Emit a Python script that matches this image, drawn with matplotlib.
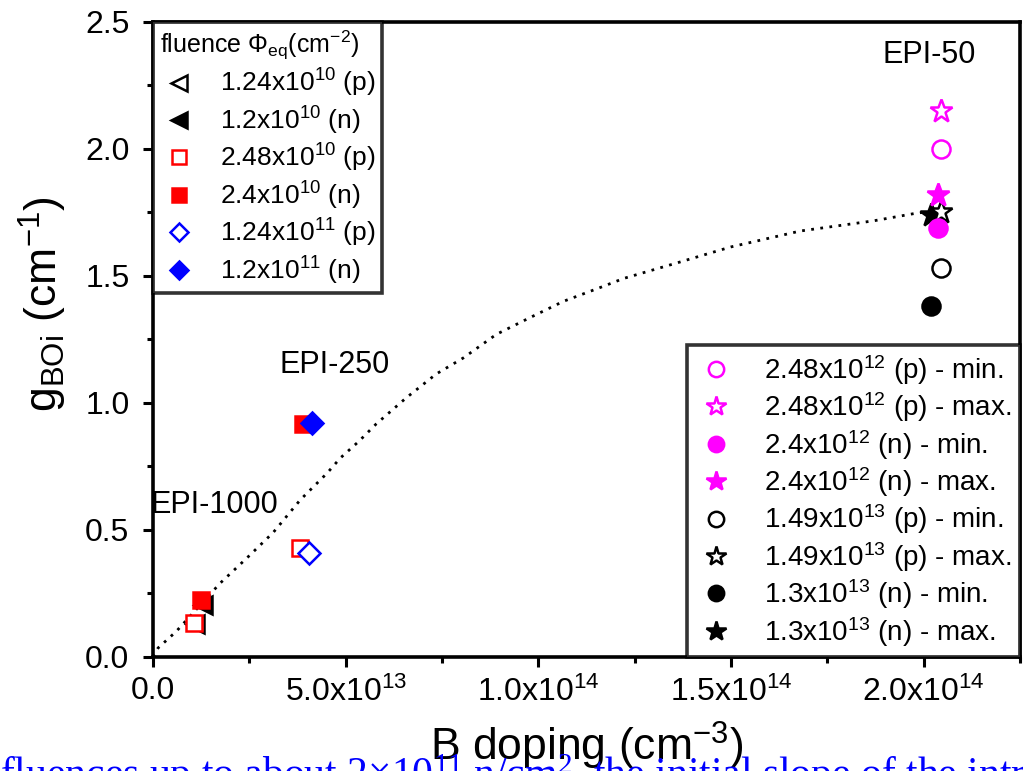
import matplotlib
matplotlib.use("Agg")
import matplotlib.pyplot as plt

plt.rcParams["font.family"] = ["Liberation Sans", "DejaVu Sans"]
plt.rcParams["mathtext.fontset"] = "custom"
plt.rcParams["mathtext.rm"] = "Liberation Sans"
plt.rcParams["mathtext.it"] = "Liberation Sans"
plt.rcParams["mathtext.default"] = "regular"

# B doping (cm^-3) and g_BOi (cm^-1) values
# EPI-1000 / EPI-250 series (low fluences)
tri_p_x = [1.09e13]
tri_p_y = [0.13]
tri_n_x = [1.30e13]
tri_n_y = [0.205]
sq_p_x = [1.06e13, 3.82e13]
sq_p_y = [0.134, 0.43]
sq_n_x = [1.25e13, 3.90e13]
sq_n_y = [0.224, 0.917]
dia_p_x = [4.05e13]
dia_p_y = [0.41]
dia_n_x = [4.13e13]
dia_n_y = [0.921]

# EPI-50 series (high fluences)
m_p_min_x, m_p_min_y = [2.044e14], [2.00]
m_p_max_x, m_p_max_y = [2.044e14], [2.15]
m_n_min_x, m_n_min_y = [2.036e14], [1.69]
m_n_max_x, m_n_max_y = [2.036e14], [1.82]
k_p_min_x, k_p_min_y = [2.044e14], [1.53]
k_p_max_x, k_p_max_y = [2.044e14], [1.75]
k_n_min_x, k_n_min_y = [2.020e14], [1.38]
k_n_max_x, k_n_max_y = [2.020e14], [1.74]

# dotted guide curve
fit_x = [0, 1.3e12, 6.0e12, 1.74e13, 2.44e13, 3.12e13, 3.82e13, 4.52e13, 4.86e13,
         5.35e13, 5.79e13, 6.57e13, 7.35e13, 8.05e13, 8.91e13, 9.77e13, 1.065e14,
         1.158e14, 1.221e14, 1.35e14, 1.499e14, 1.68e14, 1.87e14, 1.984e14, 2.03e14]
fit_y = [0.0, 0.035, 0.10, 0.29, 0.39, 0.49, 0.618, 0.724, 0.783,
         0.85, 0.917, 1.02, 1.114, 1.177, 1.27, 1.335, 1.40,
         1.453, 1.49, 1.547, 1.614, 1.677, 1.717, 1.748, 1.755]

lbl_low = ["1.24x10$^{10}$ (p)", "1.2x10$^{10}$ (n)", "2.48x10$^{10}$ (p)",
           "2.4x10$^{10}$ (n)", "1.24x10$^{11}$ (p)", "1.2x10$^{11}$ (n)"]
lbl_high = ["2.48x10$^{12}$ (p) - min.", "2.48x10$^{12}$ (p) - max.",
            "2.4x10$^{12}$ (n) - min.", "2.4x10$^{12}$ (n) - max.",
            "1.49x10$^{13}$ (p) - min.", "1.49x10$^{13}$ (p) - max.",
            "1.3x10$^{13}$ (n) - min.", "1.3x10$^{13}$ (n) - max."]

MAG = "#ff00ff"
RED = "#ff0000"
BLUE = "#0000ff"

fig = plt.figure(figsize=(10.23, 7.71), dpi=100)
ax = fig.add_axes([0.1496, 0.148, 0.8475, 0.8235])

ax.plot(fit_x, fit_y, color="black", linestyle=(0, (1, 2.3)), linewidth=2.0, zorder=1)

ms = 13
mew = 1.8
h = []
h += ax.plot(tri_p_x, tri_p_y, "<", ms=ms, mfc="white", mec="black", mew=mew, ls="none", label=lbl_low[0])
h += ax.plot(tri_n_x, tri_n_y, "<", ms=ms, mfc="black", mec="black", mew=mew, ls="none", label=lbl_low[1])
h += ax.plot(sq_p_x, sq_p_y, "s", ms=ms - 1, mfc="white", mec=RED, mew=mew, ls="none", label=lbl_low[2])
h += ax.plot(sq_n_x, sq_n_y, "s", ms=ms - 1, mfc=RED, mec=RED, mew=mew, ls="none", label=lbl_low[3])
h += ax.plot(dia_p_x, dia_p_y, "D", ms=ms - 2, mfc="white", mec=BLUE, mew=mew, ls="none", label=lbl_low[4])
h += ax.plot(dia_n_x, dia_n_y, "D", ms=ms - 2, mfc=BLUE, mec=BLUE, mew=mew, ls="none", label=lbl_low[5])

g = []
g += ax.plot(m_p_min_x, m_p_min_y, "o", ms=ms, mfc="white", mec=MAG, mew=mew, ls="none", label=lbl_high[0])
g += ax.plot(m_p_max_x, m_p_max_y, "*", ms=ms + 4, mfc="white", mec=MAG, mew=mew, ls="none", label=lbl_high[1])
g += ax.plot(k_p_min_x, k_p_min_y, "o", ms=ms, mfc="white", mec="black", mew=mew, ls="none", label=lbl_high[4])
g += ax.plot(k_n_min_x, k_n_min_y, "o", ms=ms, mfc="black", mec="black", mew=mew, ls="none", label=lbl_high[6])
g += ax.plot(k_n_max_x, k_n_max_y, "*", ms=ms + 4, mfc="black", mec="black", mew=mew, ls="none", label=lbl_high[7])
g += ax.plot(k_p_max_x, k_p_max_y, "*", ms=ms + 4, mfc="white", mec="black", mew=mew, ls="none", label=lbl_high[5])
g += ax.plot(m_n_min_x, m_n_min_y, "o", ms=ms, mfc=MAG, mec=MAG, mew=mew, ls="none", label=lbl_high[2])
g += ax.plot(m_n_max_x, m_n_max_y, "*", ms=ms + 4, mfc=MAG, mec=MAG, mew=mew, ls="none", label=lbl_high[3])
order = [0, 1, 6, 7, 2, 5, 3, 4]
g = [g[i] for i in order]

ax.text(1.6e13, 0.60, "EPI-1000", fontsize=22, ha="center", va="center")
ax.text(4.7e13, 1.15, "EPI-250", fontsize=22, ha="center", va="center")
ax.text(2.013e14, 2.37, "EPI-50", fontsize=22, ha="center", va="center")

ax.set_xlim(0, 2.25e14)
ax.set_ylim(0, 2.5)
ax.set_xticks([0, 5e13, 1e14, 1.5e14, 2e14])
ax.set_xticklabels(["0.0", "5.0x10$^{13}$", "1.0x10$^{14}$", "1.5x10$^{14}$", "2.0x10$^{14}$"])
ax.set_xticks([2.5e13, 7.5e13, 1.25e14, 1.75e14, 2.25e14], minor=True)
ax.set_yticks([0, 0.5, 1.0, 1.5, 2.0, 2.5])
ax.set_yticklabels(["0.0", "0.5", "1.0", "1.5", "2.0", "2.5"])
ax.set_yticks([0.25, 0.75, 1.25, 1.75, 2.25], minor=True)
ax.tick_params(which="both", direction="out", width=2.2, labelsize=23)
ax.tick_params(axis="y", pad=10)
ax.tick_params(axis="x", pad=7)
ax.tick_params(which="major", length=7)
ax.tick_params(which="minor", length=4)
for s in ax.spines.values():
    s.set_linewidth(2.6)

ax.set_xlabel("B doping (cm$^{-3}$)", fontsize=32, labelpad=9)
ax.set_ylabel("g$_{BOi}$ (cm$^{-1}$)", fontsize=32)
ax.yaxis.set_label_coords(-0.097, 0.555)

leg1 = ax.legend(handles=h, loc="upper left", bbox_to_anchor=(0, 1), borderaxespad=0,
                 fontsize=19, title="fluence $\\Phi_{eq}$(cm$^{-2}$)", title_fontsize=18,
                 frameon=True, fancybox=False, edgecolor="black", handletextpad=0.8,
                 labelspacing=0.2, borderpad=0.25, handlelength=1.5, markerscale=0.85)
leg1.get_frame().set_linewidth(2.6)
leg1._legend_box.align = "left"
ax.add_artist(leg1)

leg2 = ax.legend(handles=g, loc="lower right", bbox_to_anchor=(1, 0), borderaxespad=0,
                 fontsize=20, frameon=True, fancybox=False, edgecolor="black",
                 handletextpad=1.0, labelspacing=0.13, borderpad=0.3, handlelength=1.5,
                 markerscale=0.85)
leg2.get_frame().set_linewidth(2.6)

# clipped caption text from the source page
fig.text(0.0, -0.021, "fluences up to about 2\u00d710$^{11}$ n/cm$^{2}$, the initial slope of the introduction rate",
         color=BLUE, fontsize=30, family="Liberation Serif", ha="left", va="baseline")

fig.savefig("out.png", dpi=100)
